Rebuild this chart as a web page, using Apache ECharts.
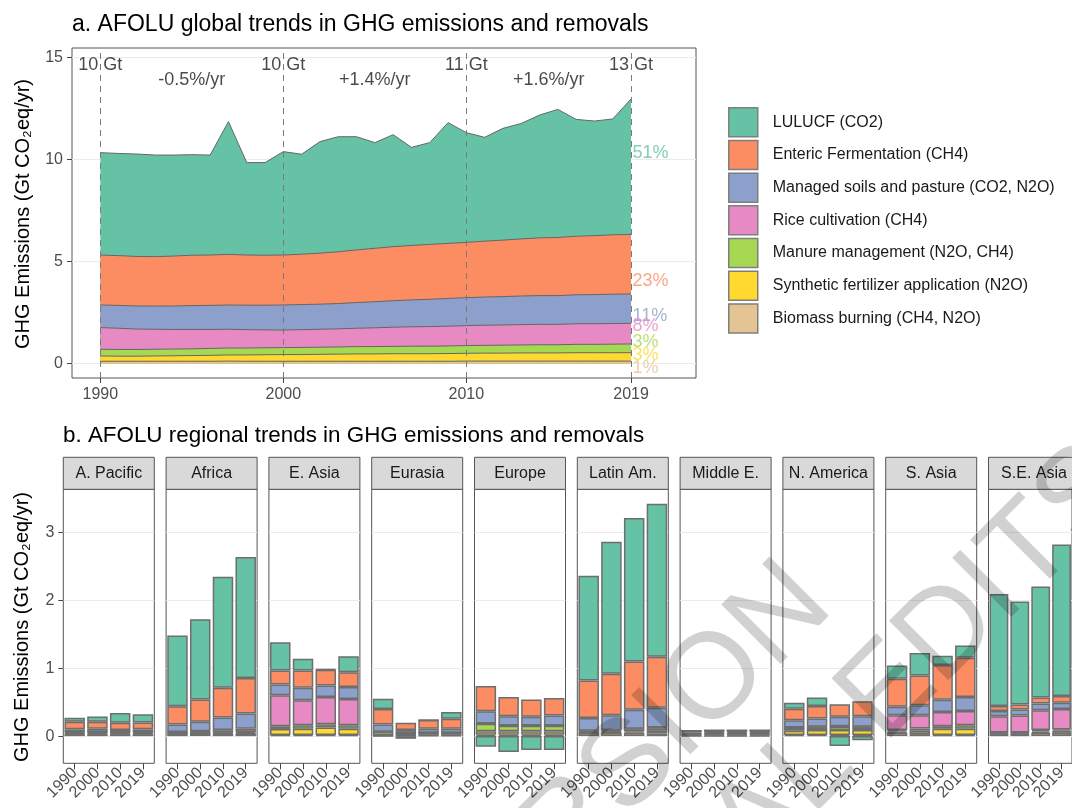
<!DOCTYPE html>
<html>
<head>
<meta charset="utf-8">
<title>AFOLU trends in GHG emissions and removals</title>
<script src="https://cdn.jsdelivr.net/npm/echarts@6.0.0/dist/echarts.min.js"></script>
<style>
  html, body { margin: 0; padding: 0; background: #fff; }
  #chart { width: 1072px; height: 808px; }
</style>
</head>
<body>
<div id="chart"></div>
<script>
(function() {
  var FONT = '"Liberation Sans", Arial, sans-serif';

  // --- panel a: global series, 1990-2019 (Gt CO2eq/yr) ---
  var years = [1990, 1991, 1992, 1993, 1994, 1995, 1996, 1997, 1998, 1999,
               2000, 2001, 2002, 2003, 2004, 2005, 2006, 2007, 2008, 2009,
               2010, 2011, 2012, 2013, 2014, 2015, 2016, 2017, 2018, 2019];
  var lulucf  = [5.02, 5.01, 5.02, 4.98, 4.95, 4.93, 4.90, 6.51, 4.53, 4.54,
                 5.07, 4.90, 5.47, 5.64, 5.55, 5.18, 5.49, 4.81, 4.99, 5.92,
                 5.38, 5.09, 5.48, 5.66, 6.02, 6.28, 5.73, 5.62, 5.68, 6.64];
  var enteric = [2.45, 2.44, 2.43, 2.42, 2.45, 2.47, 2.47, 2.48, 2.46, 2.45,
                 2.45, 2.47, 2.50, 2.54, 2.58, 2.62, 2.65, 2.67, 2.69, 2.70,
                 2.71, 2.74, 2.77, 2.80, 2.83, 2.85, 2.87, 2.89, 2.91, 2.92];
  var soils   = [1.11, 1.12, 1.13, 1.14, 1.15, 1.17, 1.18, 1.19, 1.20, 1.21,
                 1.23, 1.23, 1.23, 1.24, 1.26, 1.28, 1.30, 1.32, 1.34, 1.36,
                 1.37, 1.38, 1.39, 1.40, 1.41, 1.41, 1.42, 1.43, 1.44, 1.44];
  var rice    = [1.06, 1.04, 1.00, 0.98, 0.96, 0.95, 0.93, 0.92, 0.90, 0.88,
                 0.86, 0.87, 0.88, 0.89, 0.90, 0.92, 0.94, 0.95, 0.96, 0.97,
                 0.98, 0.99, 0.99, 1.00, 1.00, 1.00, 1.01, 1.01, 1.01, 1.01];
  var manure  = [0.33, 0.33, 0.33, 0.33, 0.33, 0.33, 0.34, 0.34, 0.34, 0.34,
                 0.34, 0.35, 0.35, 0.35, 0.36, 0.36, 0.36, 0.37, 0.37, 0.37,
                 0.38, 0.38, 0.39, 0.39, 0.40, 0.40, 0.41, 0.41, 0.42, 0.43];
  var fert    = [0.26, 0.25, 0.25, 0.26, 0.27, 0.28, 0.29, 0.30, 0.31, 0.32,
                 0.33, 0.33, 0.34, 0.35, 0.36, 0.36, 0.37, 0.37, 0.37, 0.38,
                 0.38, 0.39, 0.39, 0.40, 0.40, 0.40, 0.41, 0.41, 0.41, 0.41];
  var biomass = [0.10, 0.10, 0.10, 0.10, 0.10, 0.10, 0.10, 0.11, 0.10, 0.10,
                 0.10, 0.10, 0.10, 0.10, 0.10, 0.10, 0.10, 0.10, 0.10, 0.10,
                 0.11, 0.11, 0.11, 0.11, 0.11, 0.11, 0.11, 0.11, 0.11, 0.11];

  var markYears = [1990, 2000, 2010, 2019];
  var totalLabels = ['10 Gt', '10 Gt', '11 Gt', '13 Gt'];
  var rateYears = [1995, 2005, 2014.5];
  var rateLabels = ['-0.5%/yr', '+1.4%/yr', '+1.6%/yr'];
  var shareLabels = ['51%', '23%', '11%', '8%', '3%', '3%', '1%'];
  var shareLabelY = [10.3, 4.05, 2.32, 1.83, 1.03, 0.41, -0.25];

  // --- panel b: regional bars (Gt CO2eq/yr), one row per region: 1990, 2000, 2010, 2019 ---
  var regions = ['A. Pacific', 'Africa', 'E. Asia', 'Eurasia', 'Europe',
                 'Latin Am.', 'Middle E.', 'N. America', 'S. Asia', 'S.E. Asia'];
  var barYears = ['1990', '2000', '2010', '2019'];
  var regLulucf = [
    [0.06, 0.08, 0.145, 0.12], [1.04, 1.18, 1.63, 1.78], [0.415, 0.17, 0.01, 0.235],
    [0.15, -0.04, 0.0, 0.097], [-0.156, -0.234, -0.205, -0.205], [1.54, 1.94, 2.11, 2.25],
    [0, 0, 0, 0], [0.088, 0.122, -0.146, -0.06], [0.195, 0.33, 0.137, 0.18],
    [1.646, 1.513, 1.634, 2.23]
  ];
  var regEnteric = [
    [0.11, 0.10, 0.105, 0.10], [0.27, 0.33, 0.44, 0.52], [0.205, 0.254, 0.23, 0.22],
    [0.23, 0.107, 0.127, 0.147], [0.371, 0.283, 0.254, 0.258], [0.55, 0.61, 0.71, 0.75],
    [0.025, 0.025, 0.025, 0.025], [0.17, 0.185, 0.185, 0.22], [0.415, 0.44, 0.51, 0.575],
    [0.074, 0.073, 0.088, 0.098]
  ];
  var regSoils = [
    [0.04, 0.05, 0.03, 0.04], [0.11, 0.14, 0.185, 0.225], [0.16, 0.185, 0.17, 0.175],
    [0.107, 0.048, 0.058, 0.058], [0.181, 0.137, 0.127, 0.146], [0.19, 0.22, 0.28, 0.29],
    [0.02, 0.02, 0.02, 0.02], [0.107, 0.122, 0.137, 0.156], [0.122, 0.146, 0.18, 0.205],
    [0.077, 0.088, 0.098, 0.093]
  ];
  var regRice = [
    [0.01, 0.005, 0.005, 0.005], [0.005, 0.01, 0.038, 0.049], [0.455, 0.366, 0.40, 0.385],
    [0.003, 0.002, 0.002, 0.002], [0.003, 0.003, 0.003, 0.003], [0.008, 0.008, 0.007, 0.01],
    [0.003, 0.003, 0.003, 0.003], [0.005, 0.005, 0.005, 0.005], [0.22, 0.195, 0.21, 0.21],
    [0.239, 0.25, 0.293, 0.30]
  ];
  var regManure = [
    [0.01, 0.01, 0.01, 0.01], [0.01, 0.01, 0.01, 0.015], [0.04, 0.054, 0.05, 0.054],
    [0.05, 0.025, 0.03, 0.03], [0.112, 0.083, 0.083, 0.083], [0.015, 0.02, 0.03, 0.04],
    [0.012, 0.012, 0.012, 0.012], [0.044, 0.044, 0.053, 0.044], [0.02, 0.034, 0.039, 0.054],
    [0.005, 0.005, 0.02, 0.02]
  ];
  var regFert = [
    [0.01, 0.015, 0.015, 0.015], [0.005, 0.005, 0.01, 0.01], [0.09, 0.09, 0.11, 0.09],
    [0.005, 0.005, 0.01, 0.01], [0.05, 0.05, 0.05, 0.05], [0.005, 0.01, 0.02, 0.04],
    [0.015, 0.02, 0.02, 0.02], [0.06, 0.07, 0.07, 0.07], [0.02, 0.048, 0.09, 0.09],
    [0.009, 0.009, 0.02, 0.03]
  ];
  var regBiomass = [
    [0.03, 0.03, 0.03, 0.03], [0.04, 0.045, 0.03, 0.035], [0.015, 0.017, 0.015, 0.017],
    [0.005, 0.01, 0.009, 0.009], [0.02, 0.02, 0.02, 0.02], [0.05, 0.05, 0.05, 0.037],
    [0.005, 0.005, 0.005, 0.005], [0.018, 0.018, 0.018, 0.018], [0.048, 0.03, 0.017, 0.017],
    [0.04, 0.04, 0.048, 0.048]
  ];

  // stacking order: bottom first
  var sources = [
    { name: 'Biomass burning (CH4, N2O)', color: '#E5C494', global: biomass, regional: regBiomass },
    { name: 'Synthetic fertilizer application (N2O)', color: '#FFD92F', global: fert, regional: regFert },
    { name: 'Manure management (N2O, CH4)', color: '#A6D854', global: manure, regional: regManure },
    { name: 'Rice cultivation (CH4)', color: '#E78AC3', global: rice, regional: regRice },
    { name: 'Managed soils and pasture (CO2, N2O)', color: '#8DA0CB', global: soils, regional: regSoils },
    { name: 'Enteric Fermentation (CH4)', color: '#FC8D62', global: enteric, regional: regEnteric },
    { name: 'LULUCF (CO2)', color: '#66C2A5', global: lulucf, regional: regLulucf }
  ];
  var shareColors = ['#66C2A5', '#FC8D62', '#8DA0CB', '#E78AC3', '#A6D854', '#FFD92F', '#E5C494'];

  // layout of the small multiples
  var panelLeft0 = 63.3, panelPitch = 102.8, panelW = 91;
  var stripTop = 457.3, stripH = 32, panelTop = 489.3, panelH = 274;

  var tickColor = '#444', labelColor = '#4d4d4d', borderColor = '#555', gridColor = '#ebebeb';

  var grids = [{ left: 72, top: 48, width: 624, height: 330, show: true, borderColor: borderColor, borderWidth: 1 }];
  var xAxes = [{
    gridIndex: 0, type: 'value', min: 1988.45, max: 2022.55,
    axisLine: { show: false, onZero: false },
    axisTick: { show: true, length: 5, lineStyle: { color: tickColor }, customValues: markYears },
    axisLabel: { customValues: markYears, fontSize: 16, color: labelColor, margin: 9,
                 formatter: function(v) { return String(v); } },
    splitLine: { show: false }
  }];
  var yAxes = [{
    gridIndex: 0, type: 'value', min: -0.72, max: 15.46,
    axisLine: { show: false },
    axisTick: { show: true, length: 5, lineStyle: { color: tickColor }, customValues: [0, 5, 10, 15] },
    axisLabel: { customValues: [0, 5, 10, 15], fontSize: 16, color: labelColor, margin: 9 },
    splitLine: { show: true, lineStyle: { color: gridColor, width: 1 } }
  }];

  // cumulative tops of the global layers; draw the highest layer first so lower ones paint over it
  var running = years.map(function() { return 0; });
  var tops = sources.map(function(s) {
    running = running.map(function(v, i) { return v + s.global[i]; });
    return running.slice();
  });

  var series = [];
  for (var k = sources.length - 1; k >= 0; k--) {
    var s = sources[k];
    var item = {
      name: s.name, type: 'line', xAxisIndex: 0, yAxisIndex: 0,
      symbol: 'none', color: s.color, itemStyle: { color: s.color },
      lineStyle: { color: '#666', width: 1 },
      areaStyle: { color: s.color, opacity: 1, origin: 0 },
      data: years.map(function(y, i) { return [y, tops[k][i]]; })
    };
    if (k === 0) {
      item.markLine = {
        silent: true, symbol: ['none', 'none'], label: { show: false },
        lineStyle: { type: [6, 5], color: '#7a7a7a', width: 1 },
        data: markYears.map(function(y) { return { xAxis: y }; })
      };
    }
    series.push(item);
  }

  series.push({
    type: 'scatter', xAxisIndex: 0, yAxisIndex: 0, silent: true, symbolSize: 1,
    itemStyle: { color: 'transparent' },
    label: { show: true, position: 'inside', fontSize: 18, color: '#1a1a1a',
             formatter: function(p) { return p.data.text; } },
    data: markYears.map(function(y, i) { return { value: [y, 14.62], text: totalLabels[i] }; })
      .concat(rateYears.map(function(y, i) { return { value: [y, 13.89], text: rateLabels[i] }; }))
  });
  series.push({
    type: 'scatter', xAxisIndex: 0, yAxisIndex: 0, silent: true, symbolSize: 1,
    itemStyle: { color: 'transparent' },
    label: { show: true, position: 'right', distance: 1, fontSize: 18,
             formatter: function(p) { return p.data.text; } },
    data: shareLabels.map(function(t, i) {
      return { value: [2019, shareLabelY[i]], text: t, label: { color: shareColors[i] } };
    })
  });

  var graphic = [];
  regions.forEach(function(r, i) {
    var left = panelLeft0 + i * panelPitch;
    var g = i + 1;
    grids.push({ left: left, top: panelTop, width: panelW, height: panelH,
                 show: true, borderColor: borderColor, borderWidth: 1 });
    xAxes.push({
      gridIndex: g, type: 'category', data: barYears,
      axisLine: { show: false, onZero: false },
      axisTick: { show: true, alignWithLabel: true, length: 6, lineStyle: { color: tickColor } },
      axisLabel: { interval: 0, rotate: 45, fontSize: 16, color: labelColor, margin: 7 },
      splitLine: { show: false }
    });
    yAxes.push({
      gridIndex: g, type: 'value', min: -0.40, max: 3.63,
      axisLine: { show: false },
      axisTick: { show: i === 0, length: 5, lineStyle: { color: tickColor }, customValues: [0, 1, 2, 3] },
      axisLabel: { show: i === 0, customValues: [0, 1, 2, 3], fontSize: 16, color: labelColor, margin: 9 },
      splitLine: { show: true, lineStyle: { color: gridColor, width: 1 } }
    });
    sources.forEach(function(s) {
      series.push({
        name: s.name, type: 'bar', xAxisIndex: g, yAxisIndex: g, stack: 'r' + i,
        barWidth: '90%', color: s.color,
        itemStyle: { color: s.color, borderColor: '#6e6e6e', borderWidth: 1.5 },
        data: s.regional[i]
      });
    });
    graphic.push({
      type: 'rect', silent: true,
      shape: { x: left, y: stripTop, width: panelW, height: stripH },
      style: { fill: '#d9d9d9', stroke: borderColor, lineWidth: 1 }
    });
    graphic.push({
      type: 'text', silent: true, x: left + panelW / 2, y: stripTop + stripH / 2,
      style: { text: r, font: '16px ' + FONT, fill: '#1a1a1a',
               textAlign: 'center', textVerticalAlign: 'middle', align: 'center', verticalAlign: 'middle' }
    });
  });

  // axis titles
  [[23, 214], [22, 627]].forEach(function(p) {
    graphic.push({
      type: 'text', silent: true, x: p[0], y: p[1], rotation: Math.PI / 2,
      style: { text: 'GHG Emissions (Gt CO\u2082eq/yr)', font: '20px ' + FONT, fill: '#000',
               textAlign: 'center', textVerticalAlign: 'middle', align: 'center', verticalAlign: 'middle' }
    });
  });

  // draft watermark
  [['ACCEPTED VERSION', 812, 585], ['SUBJECT TO FINAL EDITS', 1114, 467]].forEach(function(w) {
    graphic.push({
      type: 'text', silent: true, z: 100, x: w[1], y: w[2], rotation: Math.PI / 4,
      style: { text: w[0], font: '122px ' + FONT, fill: 'rgba(0,0,0,0.18)',
               textAlign: 'right', textVerticalAlign: 'middle', align: 'right', verticalAlign: 'middle' }
    });
  });

  var chart = echarts.init(document.getElementById('chart'), null, { renderer: 'canvas' });
  chart.setOption({
    animation: false,
    backgroundColor: '#fff',
    textStyle: { fontFamily: FONT },
    title: [
      { text: 'a. AFOLU global trends in GHG emissions and removals', left: 72, top: 12, padding: 0,
        textStyle: { fontSize: 23, fontWeight: 'normal', color: '#000', lineHeight: 26 } },
      { text: 'b. AFOLU regional trends in GHG emissions and removals', left: 63, top: 423, padding: 0,
        textStyle: { fontSize: 22.4, fontWeight: 'normal', color: '#000', lineHeight: 26 } }
    ],
    legend: {
      orient: 'vertical', left: 728, top: 107, padding: 0,
      icon: 'rect', itemWidth: 29, itemHeight: 29, itemGap: 2.2,
      selectedMode: false,
      itemStyle: { borderColor: '#7f7f7f', borderWidth: 1.5 },
      textStyle: { fontSize: 16, color: '#1a1a1a', padding: [0, 0, 0, 10] },
      data: sources.map(function(s) { return s.name; }).reverse()
    },
    grid: grids,
    xAxis: xAxes,
    yAxis: yAxes,
    series: series,
    graphic: graphic
  });
  window.addEventListener('resize', function() { chart.resize(); });
})();
</script>
</body>
</html>
